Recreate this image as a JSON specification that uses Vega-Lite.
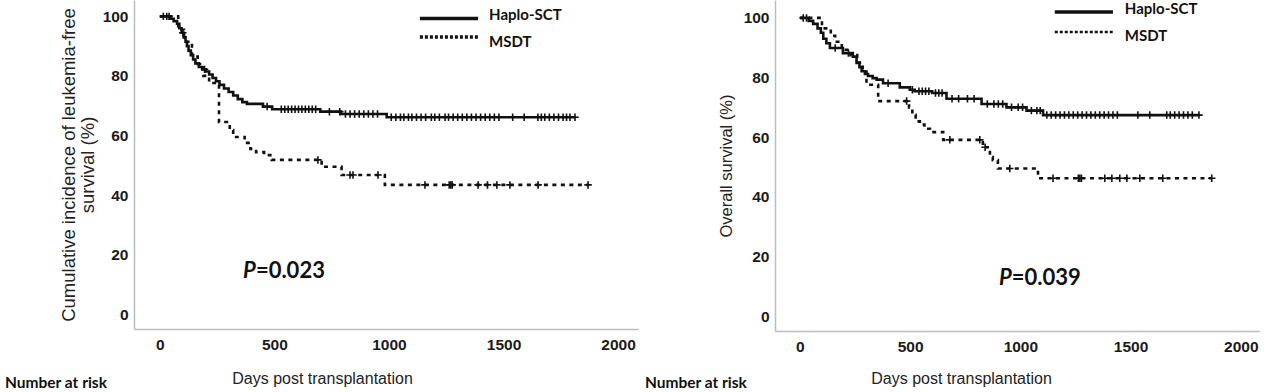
{
  "$schema": "https://vega.github.io/schema/vega-lite/v6.json",
  "padding": {"left": 5, "top": 0, "right": 0, "bottom": 0},
  "background": "white",
  "bounds": "flush",
  "spacing": 137,
  "config": {
    "view": {"stroke": null},
    "axis": {
      "domainColor": "#bdbdbd", "domainWidth": 1.5, "ticks": false, "grid": false,
      "labelFont": "Liberation Sans", "labelFontWeight": "bold", "labelFontSize": 15.5, "labelColor": "#1a1a1a",
      "titleFont": "Liberation Sans", "titleFontWeight": "normal", "titleColor": "#222", "format": "d"
    }
  },
  "datasets": {
    "km": [
      {"panel":"LFS","group":"Haplo-SCT","day":0,"surv":100,"censored":0},
      {"panel":"LFS","group":"Haplo-SCT","day":15,"surv":100,"censored":1},
      {"panel":"LFS","group":"Haplo-SCT","day":30,"surv":100,"censored":1},
      {"panel":"LFS","group":"Haplo-SCT","day":45,"surv":99.2,"censored":0},
      {"panel":"LFS","group":"Haplo-SCT","day":60,"surv":98.4,"censored":0},
      {"panel":"LFS","group":"Haplo-SCT","day":75,"surv":97.5,"censored":0},
      {"panel":"LFS","group":"Haplo-SCT","day":85,"surv":96.0,"censored":0},
      {"panel":"LFS","group":"Haplo-SCT","day":95,"surv":94.5,"censored":0},
      {"panel":"LFS","group":"Haplo-SCT","day":100,"surv":94.5,"censored":1},
      {"panel":"LFS","group":"Haplo-SCT","day":105,"surv":93.0,"censored":0},
      {"panel":"LFS","group":"Haplo-SCT","day":112,"surv":91.5,"censored":0},
      {"panel":"LFS","group":"Haplo-SCT","day":118,"surv":90.0,"censored":0},
      {"panel":"LFS","group":"Haplo-SCT","day":125,"surv":88.5,"censored":0},
      {"panel":"LFS","group":"Haplo-SCT","day":135,"surv":87.0,"censored":0},
      {"panel":"LFS","group":"Haplo-SCT","day":145,"surv":85.5,"censored":0},
      {"panel":"LFS","group":"Haplo-SCT","day":155,"surv":84.2,"censored":0},
      {"panel":"LFS","group":"Haplo-SCT","day":170,"surv":83.0,"censored":0},
      {"panel":"LFS","group":"Haplo-SCT","day":185,"surv":82.2,"censored":0},
      {"panel":"LFS","group":"Haplo-SCT","day":195,"surv":82.2,"censored":1},
      {"panel":"LFS","group":"Haplo-SCT","day":200,"surv":81.5,"censored":0},
      {"panel":"LFS","group":"Haplo-SCT","day":215,"surv":80.5,"censored":0},
      {"panel":"LFS","group":"Haplo-SCT","day":230,"surv":79.3,"censored":0},
      {"panel":"LFS","group":"Haplo-SCT","day":245,"surv":78.2,"censored":0},
      {"panel":"LFS","group":"Haplo-SCT","day":260,"surv":77.0,"censored":0},
      {"panel":"LFS","group":"Haplo-SCT","day":280,"surv":75.8,"censored":0},
      {"panel":"LFS","group":"Haplo-SCT","day":300,"surv":74.6,"censored":0},
      {"panel":"LFS","group":"Haplo-SCT","day":320,"surv":73.4,"censored":0},
      {"panel":"LFS","group":"Haplo-SCT","day":340,"surv":72.2,"censored":0},
      {"panel":"LFS","group":"Haplo-SCT","day":360,"surv":71.2,"censored":0},
      {"panel":"LFS","group":"Haplo-SCT","day":380,"surv":70.6,"censored":0},
      {"panel":"LFS","group":"Haplo-SCT","day":450,"surv":69.7,"censored":0},
      {"panel":"LFS","group":"Haplo-SCT","day":468,"surv":69.7,"censored":1},
      {"panel":"LFS","group":"Haplo-SCT","day":490,"surv":68.8,"censored":0},
      {"panel":"LFS","group":"Haplo-SCT","day":530,"surv":68.8,"censored":1},
      {"panel":"LFS","group":"Haplo-SCT","day":545,"surv":68.8,"censored":1},
      {"panel":"LFS","group":"Haplo-SCT","day":560,"surv":68.8,"censored":1},
      {"panel":"LFS","group":"Haplo-SCT","day":575,"surv":68.8,"censored":1},
      {"panel":"LFS","group":"Haplo-SCT","day":590,"surv":68.8,"censored":1},
      {"panel":"LFS","group":"Haplo-SCT","day":605,"surv":68.8,"censored":1},
      {"panel":"LFS","group":"Haplo-SCT","day":620,"surv":68.8,"censored":1},
      {"panel":"LFS","group":"Haplo-SCT","day":635,"surv":68.8,"censored":1},
      {"panel":"LFS","group":"Haplo-SCT","day":650,"surv":68.8,"censored":1},
      {"panel":"LFS","group":"Haplo-SCT","day":665,"surv":68.8,"censored":1},
      {"panel":"LFS","group":"Haplo-SCT","day":680,"surv":68.8,"censored":1},
      {"panel":"LFS","group":"Haplo-SCT","day":700,"surv":68.0,"censored":0},
      {"panel":"LFS","group":"Haplo-SCT","day":740,"surv":68.0,"censored":1},
      {"panel":"LFS","group":"Haplo-SCT","day":785,"surv":68.0,"censored":1},
      {"panel":"LFS","group":"Haplo-SCT","day":790,"surv":67.2,"censored":0},
      {"panel":"LFS","group":"Haplo-SCT","day":810,"surv":67.2,"censored":1},
      {"panel":"LFS","group":"Haplo-SCT","day":830,"surv":67.2,"censored":1},
      {"panel":"LFS","group":"Haplo-SCT","day":850,"surv":67.2,"censored":1},
      {"panel":"LFS","group":"Haplo-SCT","day":870,"surv":67.2,"censored":1},
      {"panel":"LFS","group":"Haplo-SCT","day":890,"surv":67.2,"censored":1},
      {"panel":"LFS","group":"Haplo-SCT","day":910,"surv":67.2,"censored":1},
      {"panel":"LFS","group":"Haplo-SCT","day":930,"surv":67.2,"censored":1},
      {"panel":"LFS","group":"Haplo-SCT","day":950,"surv":67.2,"censored":1},
      {"panel":"LFS","group":"Haplo-SCT","day":990,"surv":66.1,"censored":0},
      {"panel":"LFS","group":"Haplo-SCT","day":1010,"surv":66.1,"censored":1},
      {"panel":"LFS","group":"Haplo-SCT","day":1030,"surv":66.1,"censored":1},
      {"panel":"LFS","group":"Haplo-SCT","day":1050,"surv":66.1,"censored":1},
      {"panel":"LFS","group":"Haplo-SCT","day":1065,"surv":66.1,"censored":1},
      {"panel":"LFS","group":"Haplo-SCT","day":1085,"surv":66.1,"censored":1},
      {"panel":"LFS","group":"Haplo-SCT","day":1100,"surv":66.1,"censored":1},
      {"panel":"LFS","group":"Haplo-SCT","day":1120,"surv":66.1,"censored":1},
      {"panel":"LFS","group":"Haplo-SCT","day":1140,"surv":66.1,"censored":1},
      {"panel":"LFS","group":"Haplo-SCT","day":1160,"surv":66.1,"censored":1},
      {"panel":"LFS","group":"Haplo-SCT","day":1185,"surv":66.1,"censored":1},
      {"panel":"LFS","group":"Haplo-SCT","day":1200,"surv":66.1,"censored":1},
      {"panel":"LFS","group":"Haplo-SCT","day":1220,"surv":66.1,"censored":1},
      {"panel":"LFS","group":"Haplo-SCT","day":1245,"surv":66.1,"censored":1},
      {"panel":"LFS","group":"Haplo-SCT","day":1260,"surv":66.1,"censored":1},
      {"panel":"LFS","group":"Haplo-SCT","day":1280,"surv":66.1,"censored":1},
      {"panel":"LFS","group":"Haplo-SCT","day":1300,"surv":66.1,"censored":1},
      {"panel":"LFS","group":"Haplo-SCT","day":1320,"surv":66.1,"censored":1},
      {"panel":"LFS","group":"Haplo-SCT","day":1340,"surv":66.1,"censored":1},
      {"panel":"LFS","group":"Haplo-SCT","day":1360,"surv":66.1,"censored":1},
      {"panel":"LFS","group":"Haplo-SCT","day":1380,"surv":66.1,"censored":1},
      {"panel":"LFS","group":"Haplo-SCT","day":1400,"surv":66.1,"censored":1},
      {"panel":"LFS","group":"Haplo-SCT","day":1420,"surv":66.1,"censored":1},
      {"panel":"LFS","group":"Haplo-SCT","day":1440,"surv":66.1,"censored":1},
      {"panel":"LFS","group":"Haplo-SCT","day":1460,"surv":66.1,"censored":1},
      {"panel":"LFS","group":"Haplo-SCT","day":1480,"surv":66.1,"censored":1},
      {"panel":"LFS","group":"Haplo-SCT","day":1540,"surv":66.1,"censored":1},
      {"panel":"LFS","group":"Haplo-SCT","day":1590,"surv":66.1,"censored":1},
      {"panel":"LFS","group":"Haplo-SCT","day":1650,"surv":66.1,"censored":1},
      {"panel":"LFS","group":"Haplo-SCT","day":1665,"surv":66.1,"censored":1},
      {"panel":"LFS","group":"Haplo-SCT","day":1680,"surv":66.1,"censored":1},
      {"panel":"LFS","group":"Haplo-SCT","day":1700,"surv":66.1,"censored":1},
      {"panel":"LFS","group":"Haplo-SCT","day":1720,"surv":66.1,"censored":1},
      {"panel":"LFS","group":"Haplo-SCT","day":1740,"surv":66.1,"censored":1},
      {"panel":"LFS","group":"Haplo-SCT","day":1760,"surv":66.1,"censored":1},
      {"panel":"LFS","group":"Haplo-SCT","day":1775,"surv":66.1,"censored":1},
      {"panel":"LFS","group":"Haplo-SCT","day":1790,"surv":66.1,"censored":1},
      {"panel":"LFS","group":"Haplo-SCT","day":1812,"surv":66.1,"censored":1},

      {"panel":"LFS","group":"MSDT","day":0,"surv":100,"censored":0},
      {"panel":"LFS","group":"MSDT","day":40,"surv":100,"censored":1},
      {"panel":"LFS","group":"MSDT","day":80,"surv":95.5,"censored":0},
      {"panel":"LFS","group":"MSDT","day":105,"surv":91.5,"censored":0},
      {"panel":"LFS","group":"MSDT","day":140,"surv":86.5,"censored":0},
      {"panel":"LFS","group":"MSDT","day":165,"surv":84.0,"censored":0},
      {"panel":"LFS","group":"MSDT","day":190,"surv":80.0,"censored":0},
      {"panel":"LFS","group":"MSDT","day":215,"surv":77.6,"censored":0},
      {"panel":"LFS","group":"MSDT","day":258,"surv":64.5,"censored":0},
      {"panel":"LFS","group":"MSDT","day":305,"surv":61.8,"censored":0},
      {"panel":"LFS","group":"MSDT","day":320,"surv":59.5,"censored":0},
      {"panel":"LFS","group":"MSDT","day":370,"surv":57.5,"censored":0},
      {"panel":"LFS","group":"MSDT","day":395,"surv":55.5,"censored":0},
      {"panel":"LFS","group":"MSDT","day":420,"surv":54.4,"censored":0},
      {"panel":"LFS","group":"MSDT","day":455,"surv":53.4,"censored":0},
      {"panel":"LFS","group":"MSDT","day":488,"surv":51.8,"censored":0},
      {"panel":"LFS","group":"MSDT","day":690,"surv":51.8,"censored":1},
      {"panel":"LFS","group":"MSDT","day":706,"surv":49.5,"censored":0},
      {"panel":"LFS","group":"MSDT","day":793,"surv":46.7,"censored":0},
      {"panel":"LFS","group":"MSDT","day":830,"surv":46.7,"censored":1},
      {"panel":"LFS","group":"MSDT","day":843,"surv":46.7,"censored":1},
      {"panel":"LFS","group":"MSDT","day":952,"surv":46.7,"censored":1},
      {"panel":"LFS","group":"MSDT","day":982,"surv":43.4,"censored":0},
      {"panel":"LFS","group":"MSDT","day":1157,"surv":43.4,"censored":1},
      {"panel":"LFS","group":"MSDT","day":1263,"surv":43.4,"censored":1},
      {"panel":"LFS","group":"MSDT","day":1270,"surv":43.4,"censored":1},
      {"panel":"LFS","group":"MSDT","day":1276,"surv":43.4,"censored":1},
      {"panel":"LFS","group":"MSDT","day":1389,"surv":43.4,"censored":1},
      {"panel":"LFS","group":"MSDT","day":1430,"surv":43.4,"censored":1},
      {"panel":"LFS","group":"MSDT","day":1471,"surv":43.4,"censored":1},
      {"panel":"LFS","group":"MSDT","day":1528,"surv":43.4,"censored":1},
      {"panel":"LFS","group":"MSDT","day":1651,"surv":43.4,"censored":1},
      {"panel":"LFS","group":"MSDT","day":1869,"surv":43.4,"censored":1},

      {"panel":"OS","group":"Haplo-SCT","day":0,"surv":100,"censored":0},
      {"panel":"OS","group":"Haplo-SCT","day":15,"surv":100,"censored":1},
      {"panel":"OS","group":"Haplo-SCT","day":30,"surv":100,"censored":1},
      {"panel":"OS","group":"Haplo-SCT","day":40,"surv":99.0,"censored":0},
      {"panel":"OS","group":"Haplo-SCT","day":60,"surv":98.0,"censored":0},
      {"panel":"OS","group":"Haplo-SCT","day":80,"surv":96.5,"censored":0},
      {"panel":"OS","group":"Haplo-SCT","day":95,"surv":95.0,"censored":0},
      {"panel":"OS","group":"Haplo-SCT","day":106,"surv":93.0,"censored":0},
      {"panel":"OS","group":"Haplo-SCT","day":120,"surv":91.5,"censored":0},
      {"panel":"OS","group":"Haplo-SCT","day":136,"surv":89.9,"censored":0},
      {"panel":"OS","group":"Haplo-SCT","day":160,"surv":89.9,"censored":1},
      {"panel":"OS","group":"Haplo-SCT","day":195,"surv":88.2,"censored":0},
      {"panel":"OS","group":"Haplo-SCT","day":220,"surv":88.2,"censored":1},
      {"panel":"OS","group":"Haplo-SCT","day":240,"surv":87.0,"censored":0},
      {"panel":"OS","group":"Haplo-SCT","day":257,"surv":84.9,"censored":0},
      {"panel":"OS","group":"Haplo-SCT","day":270,"surv":83.5,"censored":0},
      {"panel":"OS","group":"Haplo-SCT","day":280,"surv":82.1,"censored":0},
      {"panel":"OS","group":"Haplo-SCT","day":295,"surv":81.2,"censored":0},
      {"panel":"OS","group":"Haplo-SCT","day":309,"surv":80.5,"censored":0},
      {"panel":"OS","group":"Haplo-SCT","day":330,"surv":79.8,"censored":0},
      {"panel":"OS","group":"Haplo-SCT","day":348,"surv":79.3,"censored":0},
      {"panel":"OS","group":"Haplo-SCT","day":377,"surv":78.1,"censored":0},
      {"panel":"OS","group":"Haplo-SCT","day":400,"surv":78.1,"censored":1},
      {"panel":"OS","group":"Haplo-SCT","day":453,"surv":76.7,"censored":0},
      {"panel":"OS","group":"Haplo-SCT","day":499,"surv":75.9,"censored":0},
      {"panel":"OS","group":"Haplo-SCT","day":510,"surv":75.9,"censored":1},
      {"panel":"OS","group":"Haplo-SCT","day":520,"surv":75.4,"censored":0},
      {"panel":"OS","group":"Haplo-SCT","day":540,"surv":75.4,"censored":1},
      {"panel":"OS","group":"Haplo-SCT","day":555,"surv":75.4,"censored":1},
      {"panel":"OS","group":"Haplo-SCT","day":570,"surv":75.4,"censored":1},
      {"panel":"OS","group":"Haplo-SCT","day":585,"surv":75.4,"censored":1},
      {"panel":"OS","group":"Haplo-SCT","day":600,"surv":74.8,"censored":0},
      {"panel":"OS","group":"Haplo-SCT","day":615,"surv":74.8,"censored":1},
      {"panel":"OS","group":"Haplo-SCT","day":630,"surv":74.8,"censored":1},
      {"panel":"OS","group":"Haplo-SCT","day":645,"surv":74.8,"censored":1},
      {"panel":"OS","group":"Haplo-SCT","day":665,"surv":72.9,"censored":0},
      {"panel":"OS","group":"Haplo-SCT","day":690,"surv":72.9,"censored":1},
      {"panel":"OS","group":"Haplo-SCT","day":720,"surv":72.9,"censored":1},
      {"panel":"OS","group":"Haplo-SCT","day":760,"surv":72.9,"censored":1},
      {"panel":"OS","group":"Haplo-SCT","day":790,"surv":72.9,"censored":1},
      {"panel":"OS","group":"Haplo-SCT","day":824,"surv":71.1,"censored":0},
      {"panel":"OS","group":"Haplo-SCT","day":850,"surv":71.1,"censored":1},
      {"panel":"OS","group":"Haplo-SCT","day":880,"surv":71.1,"censored":1},
      {"panel":"OS","group":"Haplo-SCT","day":900,"surv":71.1,"censored":1},
      {"panel":"OS","group":"Haplo-SCT","day":920,"surv":71.1,"censored":1},
      {"panel":"OS","group":"Haplo-SCT","day":937,"surv":70.0,"censored":0},
      {"panel":"OS","group":"Haplo-SCT","day":960,"surv":70.0,"censored":1},
      {"panel":"OS","group":"Haplo-SCT","day":990,"surv":70.0,"censored":1},
      {"panel":"OS","group":"Haplo-SCT","day":1010,"surv":70.0,"censored":1},
      {"panel":"OS","group":"Haplo-SCT","day":1028,"surv":68.9,"censored":0},
      {"panel":"OS","group":"Haplo-SCT","day":1050,"surv":68.9,"censored":1},
      {"panel":"OS","group":"Haplo-SCT","day":1075,"surv":68.9,"censored":1},
      {"panel":"OS","group":"Haplo-SCT","day":1090,"surv":68.9,"censored":1},
      {"panel":"OS","group":"Haplo-SCT","day":1103,"surv":67.4,"censored":0},
      {"panel":"OS","group":"Haplo-SCT","day":1120,"surv":67.4,"censored":1},
      {"panel":"OS","group":"Haplo-SCT","day":1140,"surv":67.4,"censored":1},
      {"panel":"OS","group":"Haplo-SCT","day":1160,"surv":67.4,"censored":1},
      {"panel":"OS","group":"Haplo-SCT","day":1180,"surv":67.4,"censored":1},
      {"panel":"OS","group":"Haplo-SCT","day":1200,"surv":67.4,"censored":1},
      {"panel":"OS","group":"Haplo-SCT","day":1220,"surv":67.4,"censored":1},
      {"panel":"OS","group":"Haplo-SCT","day":1240,"surv":67.4,"censored":1},
      {"panel":"OS","group":"Haplo-SCT","day":1260,"surv":67.4,"censored":1},
      {"panel":"OS","group":"Haplo-SCT","day":1280,"surv":67.4,"censored":1},
      {"panel":"OS","group":"Haplo-SCT","day":1300,"surv":67.4,"censored":1},
      {"panel":"OS","group":"Haplo-SCT","day":1320,"surv":67.4,"censored":1},
      {"panel":"OS","group":"Haplo-SCT","day":1340,"surv":67.4,"censored":1},
      {"panel":"OS","group":"Haplo-SCT","day":1360,"surv":67.4,"censored":1},
      {"panel":"OS","group":"Haplo-SCT","day":1380,"surv":67.4,"censored":1},
      {"panel":"OS","group":"Haplo-SCT","day":1400,"surv":67.4,"censored":1},
      {"panel":"OS","group":"Haplo-SCT","day":1420,"surv":67.4,"censored":1},
      {"panel":"OS","group":"Haplo-SCT","day":1440,"surv":67.4,"censored":1},
      {"panel":"OS","group":"Haplo-SCT","day":1533,"surv":67.4,"censored":1},
      {"panel":"OS","group":"Haplo-SCT","day":1587,"surv":67.4,"censored":1},
      {"panel":"OS","group":"Haplo-SCT","day":1664,"surv":67.4,"censored":1},
      {"panel":"OS","group":"Haplo-SCT","day":1680,"surv":67.4,"censored":1},
      {"panel":"OS","group":"Haplo-SCT","day":1700,"surv":67.4,"censored":1},
      {"panel":"OS","group":"Haplo-SCT","day":1720,"surv":67.4,"censored":1},
      {"panel":"OS","group":"Haplo-SCT","day":1740,"surv":67.4,"censored":1},
      {"panel":"OS","group":"Haplo-SCT","day":1760,"surv":67.4,"censored":1},
      {"panel":"OS","group":"Haplo-SCT","day":1780,"surv":67.4,"censored":1},
      {"panel":"OS","group":"Haplo-SCT","day":1810,"surv":67.4,"censored":1},

      {"panel":"OS","group":"MSDT","day":0,"surv":100,"censored":0},
      {"panel":"OS","group":"MSDT","day":100,"surv":96.5,"censored":0},
      {"panel":"OS","group":"MSDT","day":140,"surv":94.0,"censored":0},
      {"panel":"OS","group":"MSDT","day":160,"surv":92.0,"censored":0},
      {"panel":"OS","group":"MSDT","day":190,"surv":89.3,"censored":0},
      {"panel":"OS","group":"MSDT","day":230,"surv":87.5,"censored":0},
      {"panel":"OS","group":"MSDT","day":260,"surv":85.0,"censored":0},
      {"panel":"OS","group":"MSDT","day":285,"surv":82.0,"censored":0},
      {"panel":"OS","group":"MSDT","day":302,"surv":77.6,"censored":0},
      {"panel":"OS","group":"MSDT","day":355,"surv":72.1,"censored":0},
      {"panel":"OS","group":"MSDT","day":484,"surv":72.1,"censored":1},
      {"panel":"OS","group":"MSDT","day":495,"surv":70.0,"censored":0},
      {"panel":"OS","group":"MSDT","day":510,"surv":67.5,"censored":0},
      {"panel":"OS","group":"MSDT","day":525,"surv":65.3,"censored":0},
      {"panel":"OS","group":"MSDT","day":544,"surv":64.2,"censored":0},
      {"panel":"OS","group":"MSDT","day":565,"surv":62.8,"censored":0},
      {"panel":"OS","group":"MSDT","day":590,"surv":61.7,"censored":0},
      {"panel":"OS","group":"MSDT","day":650,"surv":59.1,"censored":0},
      {"panel":"OS","group":"MSDT","day":680,"surv":59.1,"censored":1},
      {"panel":"OS","group":"MSDT","day":816,"surv":59.1,"censored":1},
      {"panel":"OS","group":"MSDT","day":830,"surv":56.6,"censored":0},
      {"panel":"OS","group":"MSDT","day":840,"surv":56.6,"censored":1},
      {"panel":"OS","group":"MSDT","day":862,"surv":53.3,"censored":0},
      {"panel":"OS","group":"MSDT","day":875,"surv":52.3,"censored":0},
      {"panel":"OS","group":"MSDT","day":898,"surv":49.5,"censored":0},
      {"panel":"OS","group":"MSDT","day":952,"surv":49.5,"censored":1},
      {"panel":"OS","group":"MSDT","day":1080,"surv":46.2,"censored":0},
      {"panel":"OS","group":"MSDT","day":1148,"surv":46.2,"censored":1},
      {"panel":"OS","group":"MSDT","day":1263,"surv":46.2,"censored":1},
      {"panel":"OS","group":"MSDT","day":1270,"surv":46.2,"censored":1},
      {"panel":"OS","group":"MSDT","day":1277,"surv":46.2,"censored":1},
      {"panel":"OS","group":"MSDT","day":1383,"surv":46.2,"censored":1},
      {"panel":"OS","group":"MSDT","day":1415,"surv":46.2,"censored":1},
      {"panel":"OS","group":"MSDT","day":1451,"surv":46.2,"censored":1},
      {"panel":"OS","group":"MSDT","day":1483,"surv":46.2,"censored":1},
      {"panel":"OS","group":"MSDT","day":1542,"surv":46.2,"censored":1},
      {"panel":"OS","group":"MSDT","day":1646,"surv":46.2,"censored":1},
      {"panel":"OS","group":"MSDT","day":1868,"surv":46.2,"censored":1}
    ]
  },
  "hconcat": [
    {
      "width": 504,
      "height": 329,
      "layer": [
        {
          "data": {"name": "km"},
          "transform": [{"filter": "datum.panel == 'LFS'"}],
          "mark": {"type": "line", "interpolate": "step-after", "color": "#111", "strokeWidth": 2.6},
          "encoding": {
            "x": {"field": "day", "type": "quantitative", "scale": {"domain": [-113, 2087], "nice": false, "zero": false},
              "axis": {"values": [0, 500, 1000, 1500, 2000], "labelPadding": 8, "title": "Days post transplantation", "titleFontSize": 16, "titleX": 188, "titleY": 54, "titleAlign": "center", "titleBaseline": "alphabetic"}},
            "y": {"field": "surv", "type": "quantitative", "scale": {"domain": [-5, 105.5], "nice": false, "zero": false},
              "axis": {"values": [0, 20, 40, 60, 80, 100], "labelPadding": 6, "title": ["Cumulative incidence of leukemia-free", "survival (%)"], "titleFontSize": 18.5, "titlePadding": 5, "titleLineHeight": 19}},
            "detail": {"field": "group"},
            "order": {"field": "day"},
            "strokeDash": {"field": "group", "type": "nominal", "scale": {"domain": ["Haplo-SCT", "MSDT"], "range": [[1, 0], [4, 4.5]]}, "legend": null}
          }
        },
        {
          "data": {"name": "km"},
          "transform": [{"filter": "datum.panel == 'LFS' && datum.censored == 1"}],
          "mark": {"type": "point", "shape": "M0,-1V1M-1,0H1", "filled": false, "color": "#111", "strokeWidth": 1.6, "size": 56, "opacity": 1},
          "encoding": {"x": {"field": "day", "type": "quantitative"}, "y": {"field": "surv", "type": "quantitative"}}
        },
        {
          "data": {"values": [{}]},
          "mark": {"type": "rule", "color": "#111", "strokeWidth": 3.5},
          "encoding": {"x": {"datum": 1135}, "x2": {"datum": 1389}, "y": {"datum": 99.3}}
        },
        {
          "data": {"values": [{}]},
          "mark": {"type": "rule", "color": "#111", "strokeWidth": 3.5, "strokeDash": [3, 2]},
          "encoding": {"x": {"datum": 1135}, "x2": {"datum": 1389}, "y": {"datum": 93.1}}
        },
        {
          "data": {"values": [{}]},
          "mark": {"type": "text", "font": "Lato", "fontWeight": "bold", "fontSize": 15, "align": "left", "baseline": "middle", "color": "#111"},
          "encoding": {"x": {"datum": 1437}, "y": {"datum": 100.6}, "text": {"value": "Haplo-SCT"}}
        },
        {
          "data": {"values": [{}]},
          "mark": {"type": "text", "font": "Lato", "fontWeight": "bold", "fontSize": 15, "align": "left", "baseline": "middle", "color": "#111"},
          "encoding": {"x": {"datum": 1437}, "y": {"datum": 91.4}, "text": {"value": "MSDT"}}
        },
        {
          "data": {"values": [{}]},
          "mark": {"type": "text", "font": "Lato", "fontWeight": "bold", "fontStyle": "italic", "fontSize": 22, "align": "right", "baseline": "middle", "color": "#111"},
          "encoding": {"x": {"datum": 419}, "y": {"datum": 14.6}, "text": {"value": "P"}}
        },
        {
          "data": {"values": [{}]},
          "mark": {"type": "text", "font": "Lato", "fontWeight": "bold", "fontSize": 22, "align": "left", "baseline": "middle", "color": "#111"},
          "encoding": {"x": {"datum": 419}, "y": {"datum": 14.6}, "text": {"value": "=0.023"}}
        },
        {
          "data": {"values": [{}]},
          "mark": {"type": "text", "font": "Lato", "fontWeight": "bold", "fontSize": 15.5, "align": "left", "baseline": "alphabetic", "color": "#111"},
          "encoding": {"x": {"datum": -676}, "y": {"datum": -24.8}, "text": {"value": "Number at risk"}}
        }
      ]
    },
    {
      "width": 485,
      "height": 331,
      "layer": [
        {
          "data": {"name": "km"},
          "transform": [{"filter": "datum.panel == 'OS'"}],
          "mark": {"type": "line", "interpolate": "step-after", "color": "#111", "strokeWidth": 2.6},
          "encoding": {
            "x": {"field": "day", "type": "quantitative", "scale": {"domain": [-113, 2087], "nice": false, "zero": false},
              "axis": {"values": [0, 500, 1000, 1500, 2000], "labelPadding": 8, "title": "Days post transplantation", "titleFontSize": 16, "titleX": 186, "titleY": 52, "titleAlign": "center", "titleBaseline": "alphabetic"}},
            "y": {"field": "surv", "type": "quantitative", "scale": {"domain": [-5, 106], "nice": false, "zero": false},
              "axis": {"values": [0, 20, 40, 60, 80, 100], "labelPadding": 6, "title": "Overall survival (%)", "titleFontSize": 16.5, "titlePadding": 9}},
            "detail": {"field": "group"},
            "order": {"field": "day"},
            "strokeDash": {"field": "group", "type": "nominal", "scale": {"domain": ["Haplo-SCT", "MSDT"], "range": [[1, 0], [4, 4.5]]}, "legend": null}
          }
        },
        {
          "data": {"name": "km"},
          "transform": [{"filter": "datum.panel == 'OS' && datum.censored == 1"}],
          "mark": {"type": "point", "shape": "M0,-1V1M-1,0H1", "filled": false, "color": "#111", "strokeWidth": 1.6, "size": 56, "opacity": 1},
          "encoding": {"x": {"field": "day", "type": "quantitative"}, "y": {"field": "surv", "type": "quantitative"}}
        },
        {
          "data": {"values": [{}]},
          "mark": {"type": "rule", "color": "#111", "strokeWidth": 3.5},
          "encoding": {"x": {"datum": 1156}, "x2": {"datum": 1420}, "y": {"datum": 102.0}}
        },
        {
          "data": {"values": [{}]},
          "mark": {"type": "rule", "color": "#111", "strokeWidth": 2.5, "strokeDash": [3, 2]},
          "encoding": {"x": {"datum": 1156}, "x2": {"datum": 1420}, "y": {"datum": 95.3}}
        },
        {
          "data": {"values": [{}]},
          "mark": {"type": "text", "font": "Lato", "fontWeight": "bold", "fontSize": 15, "align": "left", "baseline": "middle", "color": "#111"},
          "encoding": {"x": {"datum": 1474}, "y": {"datum": 102.9}, "text": {"value": "Haplo-SCT"}}
        },
        {
          "data": {"values": [{}]},
          "mark": {"type": "text", "font": "Lato", "fontWeight": "bold", "fontSize": 15, "align": "left", "baseline": "middle", "color": "#111"},
          "encoding": {"x": {"datum": 1474}, "y": {"datum": 93.8}, "text": {"value": "MSDT"}}
        },
        {
          "data": {"values": [{}]},
          "mark": {"type": "text", "font": "Lato", "fontWeight": "bold", "fontStyle": "italic", "fontSize": 22, "align": "right", "baseline": "middle", "color": "#111"},
          "encoding": {"x": {"datum": 961}, "y": {"datum": 12.7}, "text": {"value": "P"}}
        },
        {
          "data": {"values": [{}]},
          "mark": {"type": "text", "font": "Lato", "fontWeight": "bold", "fontSize": 22, "align": "left", "baseline": "middle", "color": "#111"},
          "encoding": {"x": {"datum": 961}, "y": {"datum": 12.7}, "text": {"value": "=0.039"}}
        },
        {
          "data": {"values": [{}]},
          "mark": {"type": "text", "font": "Lato", "fontWeight": "bold", "fontSize": 15.5, "align": "left", "baseline": "alphabetic", "color": "#111"},
          "encoding": {"x": {"datum": -703}, "y": {"datum": -24.2}, "text": {"value": "Number at risk"}}
        }
      ]
    }
  ]
}
